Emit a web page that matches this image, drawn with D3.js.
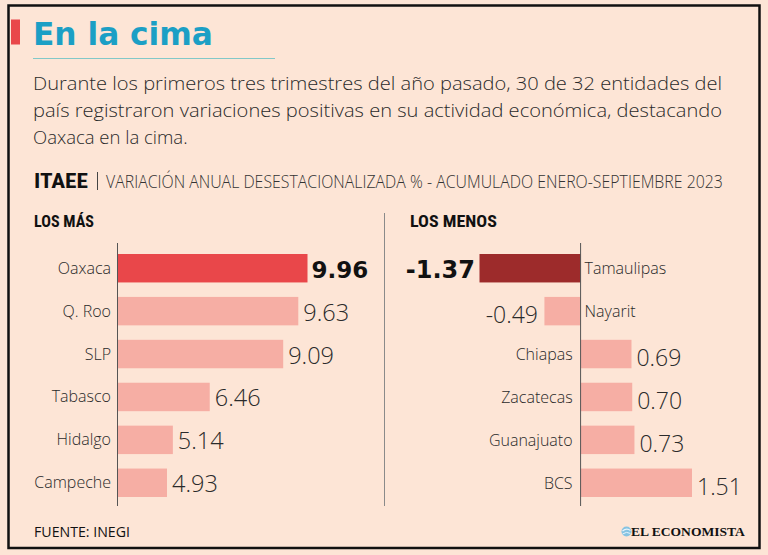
<!DOCTYPE html>
<html><head><meta charset="utf-8">
<script src="https://cdn.jsdelivr.net/npm/d3@7"></script>
<style>
html,body{margin:0;padding:0;background:#fde5d6;}
svg{display:block;}
</style></head>
<body>
<svg id="c" width="768" height="555"></svg>
<script>
// ---- data ----
const leftStates = ["Oaxaca", "Q. Roo", "SLP", "Tabasco", "Hidalgo", "Campeche"];
const leftValues = [9.96, 9.63, 9.09, 6.46, 5.14, 4.93];
const rightStates = ["Tamaulipas", "Nayarit", "Chiapas", "Zacatecas", "Guanajuato", "BCS"];
const rightValues = [-1.37, -0.49, 0.69, 0.70, 0.73, 1.51];
const leftDomainMin = 3.14; // bars start at this value on the left panel

const title = "En la cima";
const subtitleLines = [
  "Durante los primeros tres trimestres del año pasado, 30 de 32 entidades del",
  "país registraron variaciones positivas en su actividad económica, destacando",
  "Oaxaca en la cima."
];
const header = "ITAEE";
const headerSub = "VARIACIÓN ANUAL DESESTACIONALIZADA % - ACUMULADO ENERO-SEPTIEMBRE 2023";
const leftTitle = "LOS MÁS";
const rightTitle = "LOS MENOS";
const source = "FUENTE: INEGI";
const brand = "EL ECONOMISTA";

// ---- styles ----
const BG = "#fde5d6";
const TEAL = "#1b9fc5";
const RED = "#e9474a";
const PALE = "#f6aea4";
const DARK = "#9d2b2b";
const INK = "#2a2a2a";
const LIGHT = "'Open Sans', 'Lato', sans-serif";
const NARROW = "'Liberation Sans Narrow', 'Roboto Condensed', 'Liberation Sans', sans-serif";
const BOLD = "'DejaVu Sans', 'Liberation Sans', sans-serif";
const fmt = d3.formatLocale({ decimal: ".", thousands: ",", grouping: [3], currency: ["$", ""], minus: "-" }).format(".2f");

const svg = d3.select("#c");
svg.append("rect").attr("width", 768).attr("height", 555).attr("fill", BG);
svg.append("rect").attr("x", 8.5).attr("y", 5.5).attr("width", 751).attr("height", 542.5)
  .attr("fill", BG).attr("stroke", "#111").attr("stroke-width", 2.5);

// helper: place text and scale it horizontally to a target width
function fitText(sel, x, y, width) {
  const w = sel.node().getComputedTextLength();
  const k = width / w;
  sel.attr("x", 0).attr("y", 0).attr("transform", `translate(${x},${y}) scale(${k},1)`);
  return sel;
}

// title block
svg.append("rect").attr("x", 11).attr("y", 19.5).attr("width", 9).attr("height", 25).attr("fill", RED);
fitText(svg.append("text").text(title)
  .attr("font-family", BOLD).attr("font-weight", 700).attr("font-size", 31.5)
  .attr("fill", TEAL), 33, 45, 180);
svg.append("line").attr("x1", 33).attr("x2", 275).attr("y1", 58.5).attr("y2", 58.5)
  .attr("stroke", "#82c8c8").attr("stroke-width", 1.2);

const subBase = [90, 117, 143.5];
const subWidth = [689, 689, null];
subtitleLines.forEach((s, i) => {
  const t = svg.append("text").attr("x", 33).attr("y", subBase[i]).text(s)
    .attr("font-family", LIGHT).attr("font-weight", 300).attr("font-size", 18.5).attr("fill", INK);
  if (subWidth[i]) t.attr("textLength", subWidth[i]).attr("lengthAdjust", "spacingAndGlyphs");
});

// header
fitText(svg.append("text").text(header)
  .attr("font-family", NARROW).attr("font-weight", 700).attr("font-size", 20.5).attr("fill", "#111"), 34, 187.5, 54);
svg.append("line").attr("x1", 97.5).attr("x2", 97.5).attr("y1", 172).attr("y2", 190)
  .attr("stroke", "#444").attr("stroke-width", 1);
fitText(svg.append("text").text(headerSub)
  .attr("font-family", LIGHT).attr("font-weight", 300).attr("font-size", 18).attr("fill", "#333"), 106, 187.5, 617);

fitText(svg.append("text").text(leftTitle)
  .attr("font-family", NARROW).attr("font-weight", 700).attr("font-size", 16).attr("fill", "#111"), 34, 226.5, 60);
fitText(svg.append("text").text(rightTitle)
  .attr("font-family", NARROW).attr("font-weight", 700).attr("font-size", 16).attr("fill", "#111"), 410, 226.5, 87);

// divider
svg.append("line").attr("x1", 384.5).attr("x2", 384.5).attr("y1", 213).attr("y2", 506)
  .attr("stroke", "#8a8a8a").attr("stroke-width", 1);

// ---- scales ----
const yL = d3.scaleBand().domain(leftStates).range([254, 497]).paddingInner(0.337);
const yR = d3.scaleBand().domain(rightStates).range([254, 497]).paddingInner(0.337);
const xL = d3.scaleLinear().domain([leftDomainMin, d3.max(leftValues)]).range([117, 307.5]);
const xR = d3.scaleLinear().domain([d3.min(rightValues), d3.max(rightValues)]).range([479.5, 692]);

const left = leftStates.map((s, i) => ({ s, v: leftValues[i], top: i === 0 }));
const right = rightStates.map((s, i) => ({ s, v: rightValues[i], top: i === 0 }));

// left panel
const gL = svg.append("g");
gL.selectAll("rect").data(left).join("rect")
  .attr("x", xL(leftDomainMin)).attr("y", d => yL(d.s))
  .attr("width", d => xL(d.v) - xL(leftDomainMin)).attr("height", yL.bandwidth())
  .attr("fill", d => d.top ? RED : PALE);
gL.append("line").attr("x1", xL(leftDomainMin) + 0.5).attr("x2", xL(leftDomainMin) + 0.5)
  .attr("y1", yL.range()[0] - 11).attr("y2", yL.range()[1] + 9).attr("stroke", "#555").attr("stroke-width", 1);
gL.selectAll("text.cat").data(left).join("text").attr("class", "cat")
  .attr("x", xL(leftDomainMin) - 6).attr("y", d => yL(d.s) + yL.bandwidth() / 2 + 5.5)
  .attr("text-anchor", "end").text(d => d.s)
  .attr("font-family", LIGHT).attr("font-weight", 300).attr("font-size", 16).attr("fill", INK);
gL.selectAll("text.val").data(left).join("text").attr("class", "val")
  .attr("x", d => xL(d.v) + (d.top ? 4 : 5)).attr("y", d => yL(d.s) + yL.bandwidth() / 2 + 9.5)
  .text(d => fmt(d.v))
  .attr("font-family", d => d.top ? BOLD : LIGHT).attr("font-weight", d => d.top ? 700 : 300)
  .attr("font-size", d => d.top ? 23 : 23.5).attr("fill", d => d.top ? "#111" : INK);

// right panel
const gR = svg.append("g");
gR.selectAll("rect").data(right).join("rect")
  .attr("x", d => Math.min(xR(0), xR(d.v))).attr("y", d => yR(d.s))
  .attr("width", d => Math.abs(xR(d.v) - xR(0))).attr("height", yR.bandwidth())
  .attr("fill", d => d.top ? DARK : PALE);
gR.append("line").attr("x1", xR(0)).attr("x2", xR(0))
  .attr("y1", yR.range()[0] - 11).attr("y2", yR.range()[1] + 9).attr("stroke", "#555").attr("stroke-width", 1);
gR.selectAll("text.cat").data(right).join("text").attr("class", "cat")
  .attr("x", d => d.v < 0 ? xR(0) + 4 : xR(0) - 8)
  .attr("y", d => yR(d.s) + yR.bandwidth() / 2 + 6)
  .attr("text-anchor", d => d.v < 0 ? "start" : "end").text(d => d.s)
  .attr("font-family", LIGHT).attr("font-weight", 300).attr("font-size", 16).attr("fill", INK);
gR.selectAll("text.val").data(right).join("text").attr("class", "val")
  .attr("x", d => d.v < 0 ? xR(d.v) - (d.top ? 4.5 : 6.5) : xR(d.v) + 5)
  .attr("y", d => yR(d.s) + yR.bandwidth() / 2 + (d.top ? 10 : 12))
  .attr("text-anchor", d => d.v < 0 ? "end" : "start")
  .text(d => fmt(d.v))
  .attr("font-family", d => d.top ? BOLD : LIGHT).attr("font-weight", d => d.top ? 700 : 300)
  .attr("font-size", d => d.top ? 24 : 23).attr("fill", d => d.top ? "#111" : INK);

// footer
fitText(svg.append("text").text(source)
  .attr("font-family", LIGHT).attr("font-weight", 400).attr("font-size", 14).attr("fill", "#111"), 34, 537, 96);
svg.append("circle").attr("cx", 626.5).attr("cy", 531.5).attr("r", 5).attr("fill", "#86c3e2");
svg.append("path").attr("d", "M622.5,531 Q626.5,527.5 630.5,530.5").attr("fill", "none")
  .attr("stroke", "#e8f4fb").attr("stroke-width", 1.2);
svg.append("path").attr("d", "M622.5,534 Q626.5,531 630.5,533.5").attr("fill", "none")
  .attr("stroke", "#e8f4fb").attr("stroke-width", 1);
fitText(svg.append("text").text(brand)
  .attr("font-family", "'Liberation Serif', 'DejaVu Serif', serif").attr("font-weight", 700)
  .attr("font-size", 12.5).attr("fill", "#111"), 631, 536, 114);
</script>
</body></html>
